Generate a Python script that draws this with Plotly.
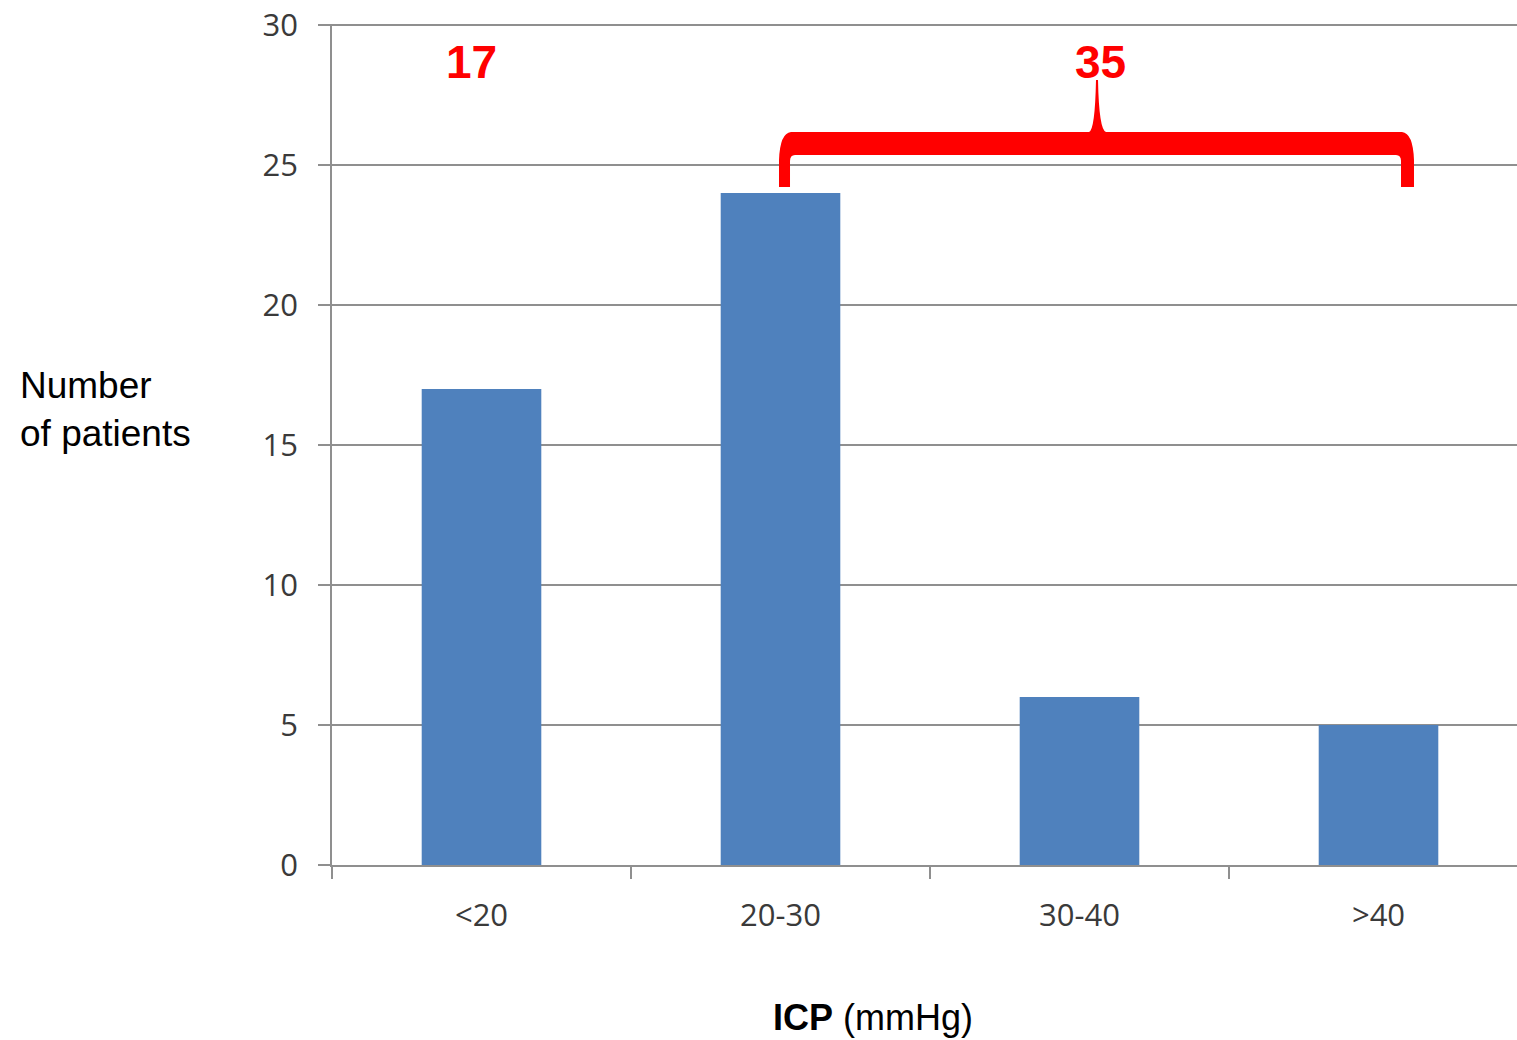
import plotly.graph_objects as go

categories = ["<20", "20-30", "30-40", ">40"]
patients = [17, 24, 6, 5]
y_ticks = [0, 5, 10, 15, 20, 25, 30]
group_labels = ["17", "35"]

# pixel -> data helpers for the bracket annotation (plot area: x 332..1517, y 25..865)
CAT_W = 299.0
def px_x(p):
    return (p - 1378.5) / CAT_W + 3
def px_y(p):
    return (865 - p) / 28.0

pts = [
    ("M", 779, 187), ("L", 779, 160), ("Q", 780, 133, 791, 132), ("L", 1089, 132),
    ("Q", 1095, 130, 1096, 80), ("L", 1098, 80), ("Q", 1099, 130, 1106, 132),
    ("L", 1402, 132), ("Q", 1413, 133, 1414, 160), ("L", 1414, 187), ("L", 1401, 187),
    ("L", 1401, 161), ("Q", 1401, 155, 1396, 155), ("L", 795, 155),
    ("Q", 790, 155, 790, 161), ("L", 790, 187),
]
path = ""
for p in pts:
    cmd = p[0]
    coords = p[1:]
    s = []
    for i in range(0, len(coords), 2):
        s.append(f"{px_x(coords[i]):.4f},{px_y(coords[i+1]):.4f}")
    path += cmd + " " + " ".join(s) + " "
path += "Z"

GRID = "#8f8f8f"
TICKFONT = dict(family="Open Sans", size=31, color="#3a3a3a")

fig = go.Figure(go.Bar(
    x=list(range(len(categories))), y=patients, width=0.4,
    marker=dict(color="#4F81BD", line=dict(width=0)),
))

fig.update_layout(
    width=1517, height=1040,
    margin=dict(l=332, r=0, t=24, b=175, autoexpand=False),
    plot_bgcolor="white", paper_bgcolor="white",
    showlegend=False,
    xaxis=dict(
        range=[-0.5, px_x(1517)], automargin=False,
        tickmode="array", tickvals=list(range(len(categories))), ticktext=categories,
        ticks="", showgrid=False, zeroline=False,
        showline=True, linecolor=GRID, linewidth=1.5,
        tickfont=TICKFONT, ticklabelstandoff=22,
        minor=dict(tick0=-0.5, dtick=1, ticks="outside", ticklen=12,
                   tickcolor=GRID, tickwidth=1.5, showgrid=False),
    ),
    yaxis=dict(
        range=[0, 30.04], automargin=False, tickmode="array", tickvals=y_ticks,
        ticks="outside", ticklen=12, tickcolor=GRID, tickwidth=1.5,
        showgrid=True, gridcolor=GRID, gridwidth=1.5, zeroline=False,
        showline=True, linecolor=GRID, linewidth=1.5,
        tickfont=TICKFONT, ticklabelstandoff=14, ticklabeloverflow="allow",
    ),
    shapes=[dict(type="path", path=path, xref="x", yref="y",
                 fillcolor="#FF0000", line=dict(width=0), layer="above")],
    annotations=[
        dict(text="<b>" + group_labels[0] + "</b>", x=px_x(471), y=px_y(62), xref="x", yref="y",
             showarrow=False, font=dict(family="Liberation Sans", size=46, color="#FF0000"),
             xanchor="center", yanchor="middle"),
        dict(text="<b>" + group_labels[1] + "</b>", x=px_x(1100), y=px_y(62), xref="x", yref="y",
             showarrow=False, font=dict(family="Liberation Sans", size=46, color="#FF0000"),
             xanchor="center", yanchor="middle"),
        dict(text="Number<br>of patients", x=(18 - 332) / 1185, y=(865 - 409) / 841,
             xref="paper", yref="paper", xanchor="left", yanchor="middle", align="left",
             showarrow=False, font=dict(family="Liberation Sans", size=37, color="#000000")),
        dict(text="<b>ICP</b> (mmHg)", x=(873 - 332) / 1185, y=(865 - 1017) / 841,
             xref="paper", yref="paper", xanchor="center", yanchor="middle",
             showarrow=False, font=dict(family="Liberation Sans", size=36, color="#000000")),
    ],
)

fig.write_html(
    "out.html",
    config={"displayModeBar": False},
    post_script="document.body.style.margin='0';document.body.style.overflow='hidden';",
)
